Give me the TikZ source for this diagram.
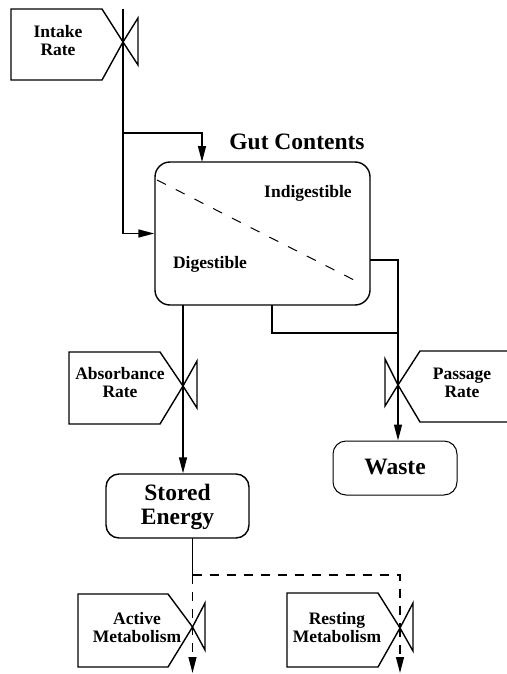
\documentclass[tikz,border=0pt]{standalone}
\usepackage{fontspec}
\setmainfont{Liberation Serif}
\usetikzlibrary{arrows.meta}
\begin{document}
\begin{tikzpicture}[x=1pt,y=-1pt,
  line width=1.4pt,
  flow/.style={-{Triangle[length=16pt,width=8pt]}},
  dflow/.style={dash pattern=on 9pt off 8pt,-{Triangle[length=16pt,width=8pt]}},
  dline/.style={dash pattern=on 9pt off 8pt},
  small/.style={font=\bfseries\fontsize{17.5}{18}\selectfont,align=center,inner sep=0pt},
  big/.style={font=\bfseries\fontsize{23.5}{24}\selectfont,align=center,inner sep=0pt},
  stock/.style={draw,rounded corners=13pt,minimum width=#1,inner sep=0pt}]
\useasboundingbox (0,0) rectangle (506,674);

% valve centres
\coordinate (v1) at (123,42);
\coordinate (v2) at (183,386);
\coordinate (v3) at (398,385);
\coordinate (v4) at (192.5,627);
\coordinate (v5) at (400,628);

% stocks
\node[stock=215pt,minimum height=143pt,rounded corners=15pt] (gut) at (262.5,233.5) {};
\node[big] (gutlabel) at (297,142) {Gut Contents};
\node[small] (indig) at (308,193) {Indigestible};
\node[small] (dig) at (210,264) {Digestible};
\coordinate (dA) at (157,180);
\coordinate (dB) at (358,282);
\draw[line width=1pt,dash pattern=on 10pt off 11pt] (dA) -- (dB);

\node[stock=143pt,minimum height=64pt] (stored) at (177.5,506) {};
\node[big,font=\bfseries\fontsize{23.5}{24}\selectfont] (storedlabel) at (177.5,507) {Stored\\Energy};

\node[stock=124pt,minimum height=54pt,line width=1pt] (waste) at (395,468) {};
\node[big] (wastelabel) at (395,467) {Waste};

% converter boxes with valves
% Intake
\draw (11,9) -- (102,9) -- (v1) -- (102,80) -- (11,80) -- cycle;
\draw (v1) -- (138,18) -- (138,65) -- cycle;
\node[small] (intake) at (58,41) {Intake\\Rate};
% Absorbance
\draw (69,352) -- (160,352) -- (v2) -- (160,424) -- (69,424) -- cycle;
\draw (v2) -- (197,361) -- (197,408) -- cycle;
\node[small] (absorb) at (120,383) {Absorbance\\Rate};
% Passage
\draw (510,351) -- (420,351) -- (v3) -- (420,422) -- (510,422);
\draw (v3) -- (385,359) -- (385,406) -- cycle;
\node[small] (passage) at (462,383) {Passage\\Rate};
% Active
\draw (78,594) -- (168,594) -- (v4) -- (168,667) -- (78,667) -- cycle;
\draw (v4) -- (205,603) -- (205,650) -- cycle;
\node[small] (active) at (137,628) {Active\\Metabolism};
% Resting
\draw (287,593) -- (378,593) -- (v5) -- (378,667) -- (287,667) -- cycle;
\draw (v5) -- (413,603) -- (413,651) -- cycle;
\node[small] (resting) at (337,628) {Resting\\Metabolism};

% flows
\coordinate (itop) at (123,9);
\coordinate (ib) at (123,133);
\coordinate (gtop) at (202,162);
\draw[flow] (itop) -- (v1) |- (gut.west);
\draw[flow] (ib) -| (gtop);

\coordinate (gb1) at (183,305);
\draw[flow] (gb1) -- (v2) -- (stored.north -| v2);

\coordinate (ge) at (370,260);
\coordinate (gb2) at (272,305);
\coordinate (pj) at (398,333);
\draw (gb2) |- (pj);
\draw[flow] (ge) -| (v3) -- (waste.north -| v3);

\coordinate (sb) at (192.5,538);
\coordinate (sj) at (192.5,575);
\coordinate (ae) at (192.5,673);
\coordinate (re) at (400,673);
\draw (sb) -- (sj);
\draw[dline] (sj) -| (v5);
\draw[dflow] (v5) -- (re);
\draw[dflow] (sj) -- (v4) -- (ae);
\end{tikzpicture}
\end{document}
